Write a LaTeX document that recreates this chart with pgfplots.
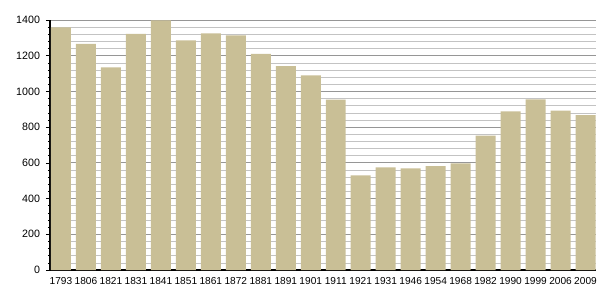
\documentclass[border=0pt]{standalone}
\usepackage{fontspec}
\setmainfont{Liberation Sans}
\usepackage{pgfplots}
\pgfplotsset{compat=1.18}
\definecolor{barcol}{RGB}{201,191,150}
\definecolor{majgrid}{RGB}{150,150,150}
\definecolor{mingrid}{RGB}{195,195,195}
\begin{document}
\begin{tikzpicture}
\useasboundingbox (-37.5pt,-22.5pt) rectangle (416.25pt,202.5pt);
\begin{axis}[
  at={(0,0)}, anchor=south west,
  width=409.5pt, height=187.5pt, scale only axis,
  xmin=-0.44, xmax=21.42, ymin=0, ymax=1400,
  axis lines=left,
  axis line style={-, black, line width=0.8pt},
  xtick=data,
  xticklabels={1793,1806,1821,1831,1841,1851,1861,1872,1881,1891,1901,1911,1921,1931,1946,1954,1968,1982,1990,1999,2006,2009},
  ytick={0,200,...,1400},
  minor y tick num=4,
  tick align=outside,
  x tick style={draw=none},
  y tick style={black, line width=0.5pt},
  major tick length=3pt,
  minor tick length=1.6pt,
  ymajorgrids, yminorgrids,
  major grid style={majgrid, line width=0.6pt},
  minor grid style={mingrid, line width=0.5pt},
  /pgf/number format/assume math mode=true,
  /pgf/number format/1000 sep={},
  x tick label style={font=\fontsize{7.6}{9}\selectfont, yshift=1pt},
  y tick label style={font=\fontsize{8}{9.6}\selectfont, xshift=-1pt},
  axis on top=false,
  clip=false,
]
\addplot[ybar, bar width=0.8, fill=barcol, draw=none] coordinates {
(0,1359) (1,1266) (2,1135) (3,1322) (4,1398) (5,1286) (6,1325) (7,1314)
(8,1210) (9,1142) (10,1090) (11,954) (12,530) (13,575) (14,569) (15,582)
(16,597) (17,752) (18,888) (19,956) (20,892) (21,868)
};
\end{axis}
\end{tikzpicture}
\end{document}
